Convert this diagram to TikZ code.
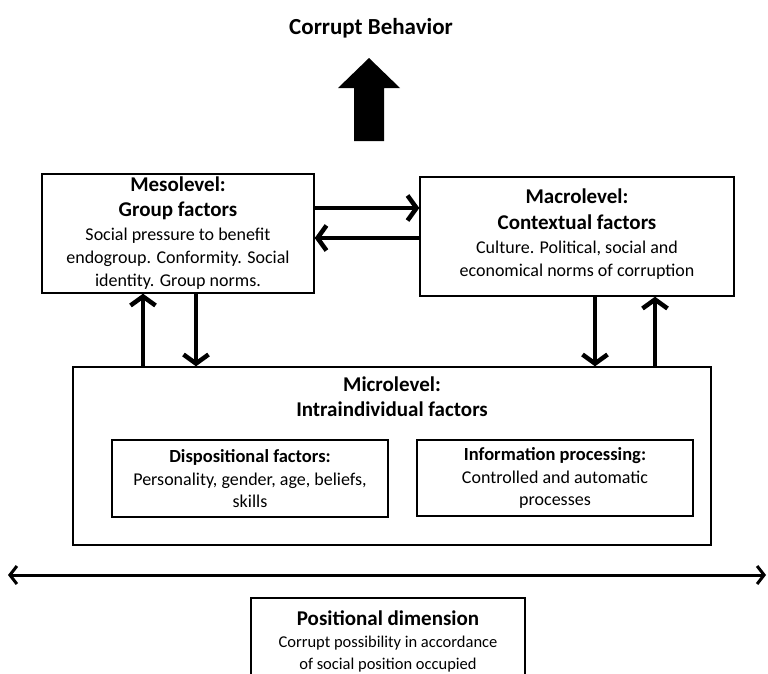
\documentclass[tikz,border=0pt]{standalone}
\usepackage{fontspec}
\setmainfont{Carlito}
\usetikzlibrary{positioning,arrows.meta}
\newcommand\hd{\bfseries\fontsize{21}{25}\selectfont}
\newcommand\subhd{\bfseries\fontsize{18.5}{22}\selectfont}
\newcommand\smalltxt{\fontsize{16.5}{22}\selectfont}
\tikzset{
  box/.style={draw, line width=1.4pt, align=center, inner sep=0pt, font=\fontsize{18}{23}\selectfont},
  innerbox/.style={draw, line width=2.3pt, align=center, inner sep=0pt, font=\fontsize{18}{22}\selectfont},
  flow/.style={line width=4.5pt, -{Straight Barb[length=9pt,width=25pt]}},
  span/.style={line width=3pt, {Straight Barb[length=7pt,width=18pt]}-{Straight Barb[length=7pt,width=18pt]}}
}
\begin{document}
\begin{tikzpicture}[x=1pt,y=-1pt]
	\useasboundingbox (0,0) rectangle (768,673);
	\node[font=\bfseries\fontsize{23}{27}\selectfont] (title) at (371,28) {Corrupt Behavior};
	\fill (369,58) -- (400,88) -- (384,88) -- (384,141) -- (354,141) -- (354,88) -- (338,88) -- cycle;
	\node[box, minimum width=272pt, minimum height=119pt] (meso) at (178,233.5)
		{\hd Mesolevel:\\[2pt] \hd Group factors\\[1pt] Social pressure to benefit\\ endogroup. Conformity. Social\\ identity. Group norms.};
	\node[box, minimum width=314pt, minimum height=119pt] (macro) at (577,236.5)
		{\hd Macrolevel:\\[3pt] \hd Contextual factors\\[1pt] Culture. Political, social and\\ economical norms of corruption\\[-16pt]};
	\node[box, minimum width=638pt, minimum height=178pt] (micro) at (392,456) {};
	\node[below=7pt of micro.north, align=center, font=\hd] (microhd) {Microlevel:\\ Intraindividual factors};
	\node[innerbox, minimum width=276pt, minimum height=77pt] (disp) at (250,478.5)
		{\subhd Dispositional factors:\\[1pt] Personality, gender, age, beliefs,\\ skills};
	\node[innerbox, minimum width=276pt, minimum height=76pt] (info) at (555,478)
		{\subhd Information processing:\\[1pt] Controlled and automatic\\ processes};
	\node[innerbox, minimum width=274pt, minimum height=86pt] (pos) at (388,641)
		{\hd Positional dimension\\ \smalltxt Corrupt possibility in accordance\\ \smalltxt of social position occupied};
	\coordinate (mesoOut) at ([yshift=25.5pt]meso.east);
	\coordinate (mesoIn) at ([yshift=-4.5pt]meso.east);
	\coordinate (mesoUp) at ([xshift=-35pt]meso.south);
	\coordinate (mesoDown) at ([xshift=18pt]meso.south);
	\coordinate (macroDown) at ([xshift=18pt]macro.south);
	\coordinate (macroUp) at ([xshift=78pt]macro.south);
	\coordinate (west) at (8,575);
	\coordinate (east) at (766,575);
	\draw[flow] (mesoOut) -- (mesoOut -| macro.west);
	\draw[flow] (mesoIn -| macro.west) -- (mesoIn);
	\draw[flow] (mesoUp |- micro.north) -- (mesoUp);
	\draw[flow] (mesoDown) -- (mesoDown |- micro.north);
	\draw[flow] (macroDown) -- (macroDown |- micro.north);
	\draw[flow] (macroUp |- micro.north) -- (macroUp);
	\draw[span] (west) -- (east);
\end{tikzpicture}
\end{document}
